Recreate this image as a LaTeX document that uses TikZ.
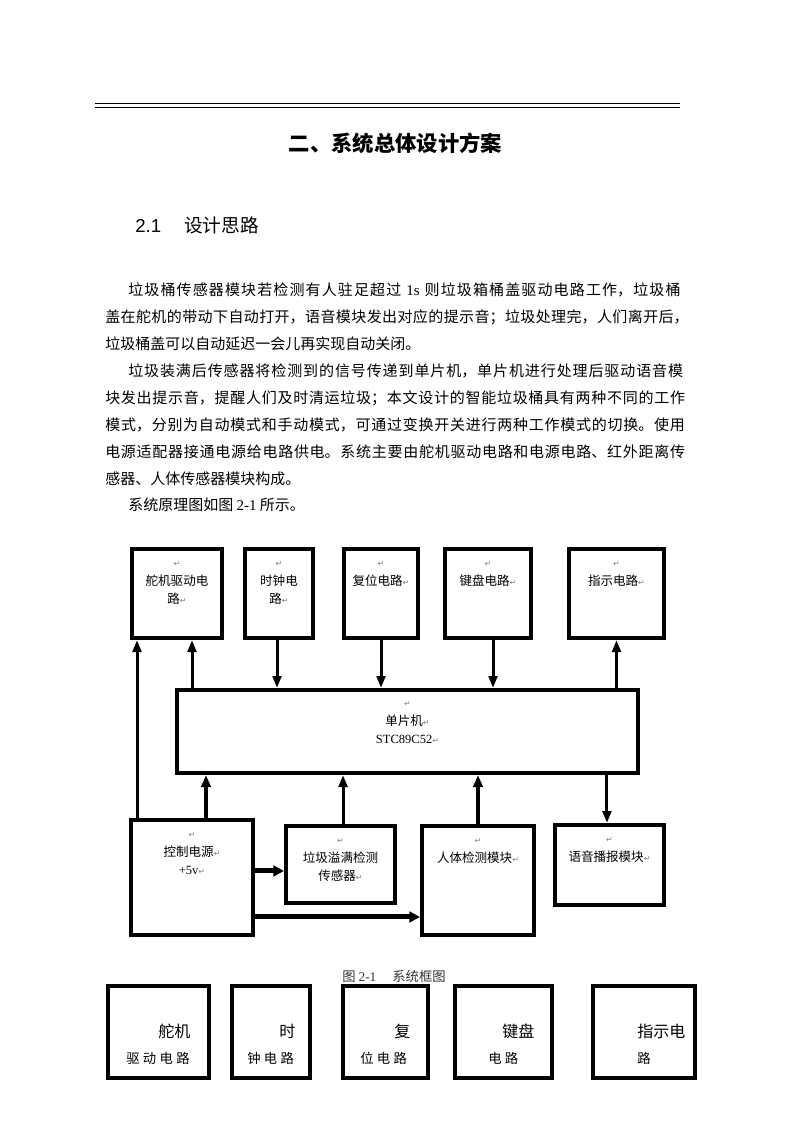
\documentclass[tikz,border=0pt]{standalone}
\usepackage{fontspec}
\usepackage{xcolor}
\usetikzlibrary{arrows.meta,positioning}
\setmainfont{Liberation Serif}
\newfontfamily\cjk{Noto Sans CJK SC}
\newfontfamily\lat{Liberation Serif}
\newfontfamily\latsf{Liberation Sans}
\newfontfamily\symf{DejaVu Sans}
\newcommand\ret{{\symf\fontsize{6}{6}\selectfont\textcolor{gray}{↵}}}
\newcommand\lsp{\kern2.5pt}
\XeTeXlinebreaklocale "zh"
\XeTeXlinebreakskip=0pt plus 2pt

\begin{document}
\begin{tikzpicture}[x=0.75pt,y=-0.75pt]
        \tikzstyle{box}
	  =[draw, line width=3pt, rectangle, inner sep=0pt]
        \tikzset{wh/.style 2 args={minimum width=#1*0.75pt,
	  minimum height=#2*0.75pt}}
        \tikzstyle{txt}
	  =[inner sep=0pt, align=center,
	  font=\cjk\fontsize{9.4}{14}\selectfont]
        \tikzstyle{para}
	  =[anchor=base west, inner sep=0pt,
	  font=\cjk\fontsize{11.25}{13}\selectfont]
        \tikzstyle{parafull}
	  =[para, text width=441pt,
	  execute at begin node={\noindent\parfillskip=0pt\relax}]
        \tikzstyle{big}
	  =[anchor=base west, inner sep=0pt, font=\cjk\fontsize{12}{14}\selectfont]
        \tikzstyle{small}
	  =[anchor=base west, inner sep=0pt, font=\cjk\fontsize{10}{12}\selectfont]
        \tikzstyle{arr}
	  =[line width=2.25pt, -{Triangle[length=9pt,width=6.5pt]}]
        \tikzstyle{midarr}
	  =[line width=3pt, -{Triangle[length=9pt,width=7pt]}]
        \tikzstyle{fatarr}
	  =[line width=3.75pt, -{Triangle[length=8pt,width=8pt]}]

	\useasboundingbox (0,0) rectangle (793,1122);

	% page head
	\draw[line width=1.1pt] (95,103.5) -- (680,103.5);
	\draw[line width=0.75pt] (95,107) -- (680,107);
	\node[inner sep=0pt, font=\cjk\bfseries\fontsize{16}{18}\selectfont] (title)
	  at (395.5,143) {二、系统总体设计方案};
	\node[anchor=base west, inner sep=0pt, font=\latsf\fontsize{14}{16}\selectfont] (secno)
	  at (135,232) {2.1};
	\node[anchor=base west, inner sep=0pt, font=\cjk\fontsize{14}{16}\selectfont] (sec)
	  at (184,232) {设计思路};

	% text
	\node[parafull] (p1)
	  at (105,295.7) {\hspace*{17.25pt}垃圾桶传感器模块若检测有人驻足超过 {\lat 1s} 则垃圾箱桶盖驱动电路工作，垃圾桶};
	\node[parafull] (p2)
	  at (105,322.6) {盖在舵机的带动下自动打开，语音模块发出对应的提示音；垃圾处理完，人们离开后，};
	\node[para] (p3)
	  at (105,349.5) {垃圾桶盖可以自动延迟一会儿再实现自动关闭。};
	\node[parafull] (p4)
	  at (105,376.4) {\hspace*{17.25pt}垃圾装满后传感器将检测到的信号传递到单片机，单片机进行处理后驱动语音模};
	\node[parafull] (p5)
	  at (105,403.3) {块发出提示音，提醒人们及时清运垃圾；本文设计的智能垃圾桶具有两种不同的工作};
	\node[parafull] (p6)
	  at (105,430.2) {模式，分别为自动模式和手动模式，可通过变换开关进行两种工作模式的切换。使用};
	\node[parafull] (p7)
	  at (105,457.1) {电源适配器接通电源给电路供电。系统主要由舵机驱动电路和电源电路、红外距离传};
	\node[para] (p8)
	  at (105,484) {感器、人体传感器模块构成。};
	\node[para] (p9)
	  at (128,510.9) {系统原理图如图 {\lat 2-1} 所示。};

	% upper row
	\node[box, wh={90}{89}] (servo) at (177,593.5) {};
	\node[txt] (servoT)
	  [below=4.5pt of servo.north] {\ret\strut\\舵机驱动电\strut\\路\ret\strut};
	\node[box, wh={68}{89}] (clock) at (279,593.5) {};
	\node[txt] (clockT)
	  [below=4.5pt of clock.north] {\ret\strut\\时钟电\strut\\路\ret\strut};
	\node[box, wh={74}{89}] (reset) at (381,593.5) {};
	\node[txt] (resetT)
	  [below=4.5pt of reset.north] {\ret\strut\\复位电路\ret\strut};
	\node[box, wh={86}{89}] (keyb) at (488,593.5) {};
	\node[txt] (keybT)
	  [below=4.5pt of keyb.north] {\ret\strut\\键盘电路\ret\strut};
	\node[box, wh={95}{89}] (ind) at (616.5,593.5) {};
	\node[txt] (indT)
	  [below=4.5pt of ind.north] {\ret\strut\\指示电路\ret\strut};

	% mcu
	\node[box, wh={461}{83}] (mcu) at (407.5,731.5) {};
	\node[txt] (mcuT)
	  [below=3.75pt of mcu.north] {\ret\strut\\单片机\ret\strut\\{\lat STC89C52}\ret\strut};

	% lower row
	\node[box, wh={122}{115}] (power) at (192,877.5) {};
	\node[txt] (powerT)
	  [below=4.5pt of power.north] {\ret\strut\\控制电源\ret\strut\\{\lat +5v}\ret\strut};
	\node[box, wh={109}{77}] (sensor) at (340.5,864.5) {};
	\node[txt] (sensorT)
	  [below=4.5pt of sensor.north] {\ret\strut\\垃圾溢满检测\strut\\传感器\ret\strut};
	\node[box, wh={112}{109}] (human) at (478,880.5) {};
	\node[txt] (humanT)
	  [below=4.5pt of human.north] {\ret\strut\\人体检测模块\ret\strut};
	\node[box, wh={109}{80}] (voice) at (609.5,865) {};
	\node[txt] (voiceT)
	  [below=4.5pt of voice.north] {\ret\strut\\语音播报模块\ret\strut};

	% connections
	\draw[arr] ([xshift=6pt]power.north west) -- ([xshift=6pt]power.north west |- servo.south);
	\draw[arr] ([xshift=12.75pt]mcu.north west) -- ([xshift=12.75pt]mcu.north west |- servo.south);
	\draw[arr] ([xshift=-1.5pt]clock.south) -- ([xshift=-1.5pt]clock.south |- mcu.north);
	\draw[arr] (reset.south) -- (reset.south |- mcu.north);
	\draw[arr] ([xshift=3.75pt]keyb.south) -- ([xshift=3.75pt]keyb.south |- mcu.north);
	\draw[arr] (ind.south |- mcu.north) -- (ind.south);
	\draw[midarr] ([xshift=10.5pt]power.north) -- ([xshift=10.5pt]power.north |- mcu.south);
	\draw[arr] ([xshift=1.9pt]sensor.north) -- ([xshift=1.9pt]sensor.north |- mcu.south);
	\draw[midarr] (human.north) -- (human.north |- mcu.south);
	\draw[arr] ([xshift=-1.9pt]voice.north |- mcu.south) -- ([xshift=-1.9pt]voice.north);
	\draw[fatarr] ([yshift=4.9pt]power.east) -- ([yshift=4.9pt]power.east -| sensor.west);
	\draw[fatarr] ([yshift=-29.6pt]power.east) -- ([yshift=-29.6pt]power.east -| human.west);

	% caption
	\node[anchor=base west, inner sep=0pt, text=black!80,
	  font=\cjk\fontsize{10}{12}\selectfont] (cap)
	  at (342,981) {图 {\lat 2-1}\hspace{12pt}系统框图};

	% next figure, top row
	\node[box, line width=3.2pt, wh={101}{92}] (c1) at (158.5,1032) {};
	\node[box, line width=3.2pt, wh={78}{92}] (c2) at (271,1032) {};
	\node[box, line width=3.2pt, wh={85}{92}] (c3) at (385.5,1032) {};
	\node[box, line width=3.2pt, wh={97}{92}] (c4) at (503.5,1032) {};
	\node[box, line width=3.2pt, wh={102}{92}] (c5) at (644,1032) {};
	\node[big] (c1a) at (158,1037) {舵机};
	\node[small] (c1b) at (126,1063) {驱\lsp 动\lsp 电\lsp 路};
	\node[big] (c2a) at (279,1037) {时};
	\node[small] (c2b) at (247,1063) {钟\lsp 电\lsp 路};
	\node[big] (c3a) at (394,1037) {复};
	\node[small] (c3b) at (360,1063) {位\lsp 电\lsp 路};
	\node[big] (c4a) at (502,1037) {键盘};
	\node[small] (c4b) at (488,1063) {电\lsp 路};
	\node[big] (c5a) at (637,1037) {指示电};
	\node[small] (c5b) at (637,1063) {路};
\end{tikzpicture}
\end{document}
